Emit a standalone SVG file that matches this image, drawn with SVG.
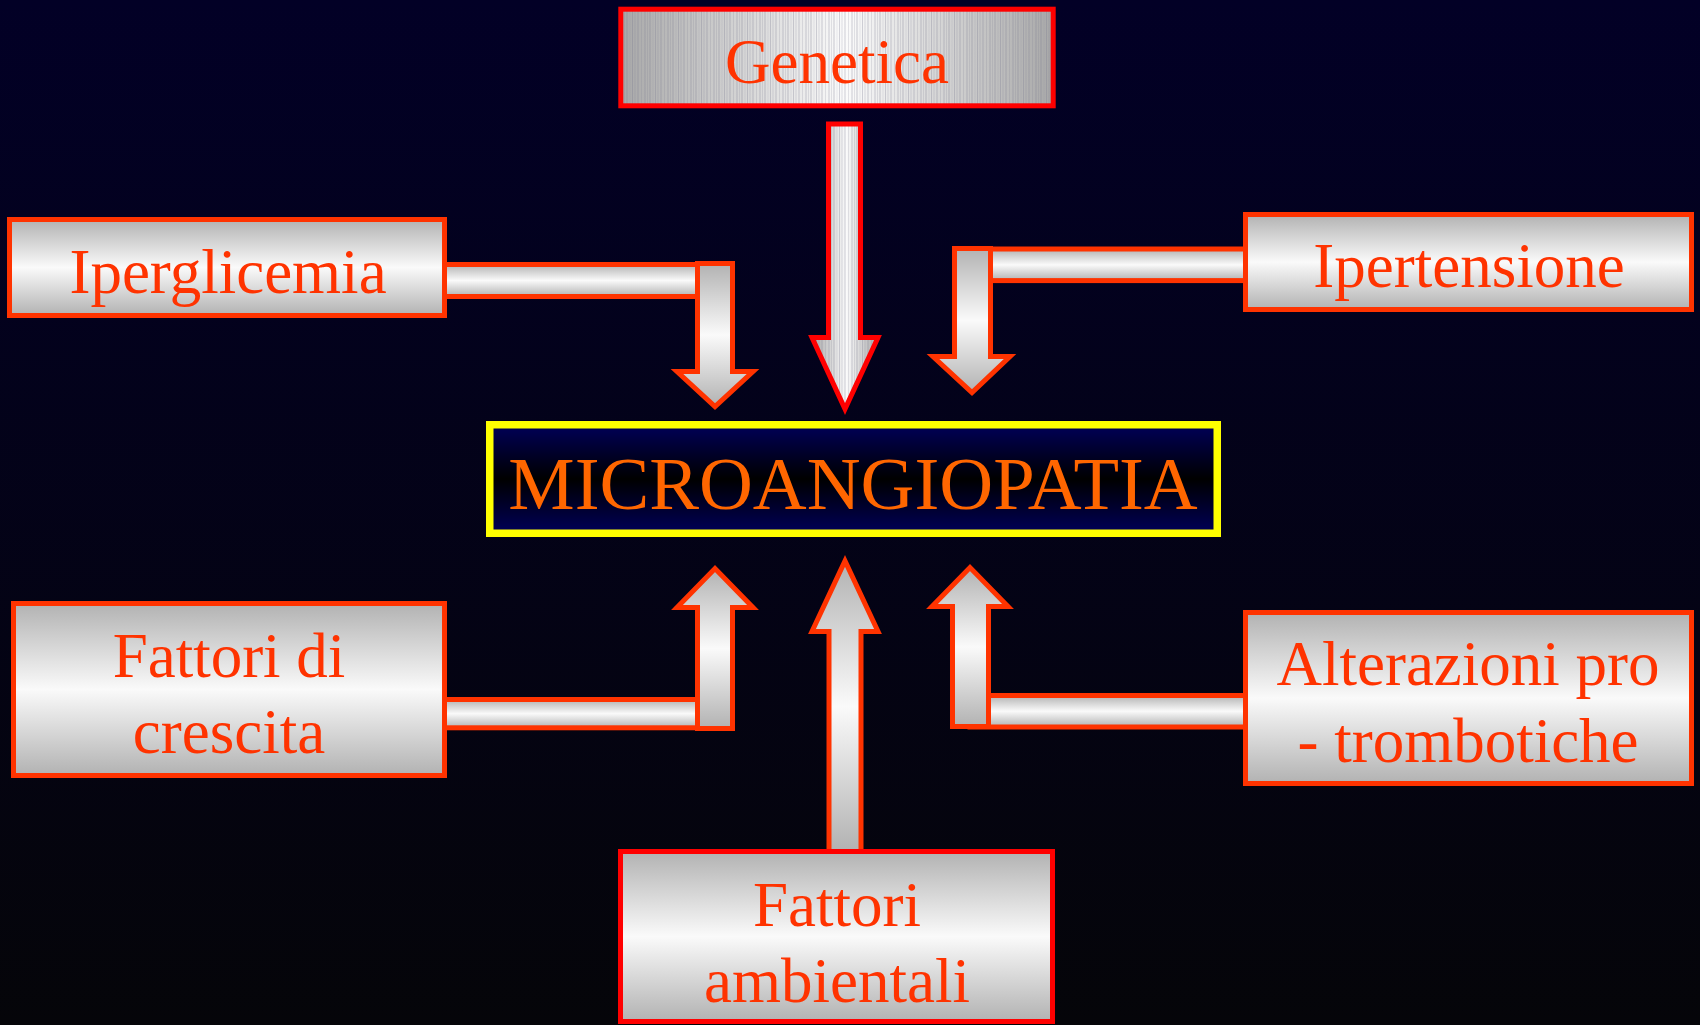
<svg xmlns="http://www.w3.org/2000/svg" width="1700" height="1025" viewBox="0 0 1700 1025">
<defs>
  <linearGradient id="bg" x1="0" y1="0" x2="0" y2="1">
    <stop offset="0" stop-color="#020026"/>
    <stop offset="1" stop-color="#050509"/>
  </linearGradient>
  <linearGradient id="silverV" x1="0" y1="0" x2="0" y2="1">
    <stop offset="0" stop-color="#b2b2b2"/>
    <stop offset="0.5" stop-color="#fafafa"/>
    <stop offset="1" stop-color="#b2b2b2"/>
  </linearGradient>
  <linearGradient id="silverH" x1="0" y1="0" x2="1" y2="0">
    <stop offset="0" stop-color="#a8a8a8"/>
    <stop offset="0.52" stop-color="#fbfbfb"/>
    <stop offset="1" stop-color="#a8a8a8"/>
  </linearGradient>
  <linearGradient id="navy" x1="0" y1="0" x2="0" y2="1">
    <stop offset="0" stop-color="#000058"/>
    <stop offset="0.5" stop-color="#000000"/>
    <stop offset="1" stop-color="#000058"/>
  </linearGradient>
  <pattern id="stripes" x="0" y="0" width="23" height="10" patternUnits="userSpaceOnUse">
    <g stroke="#7c7c92" stroke-width="0.8">
      <line x1="1" y1="0" x2="1" y2="10" stroke-opacity="0.45"/>
      <line x1="3.5" y1="0" x2="3.5" y2="10" stroke-opacity="0.25"/>
      <line x1="6" y1="0" x2="6" y2="10" stroke-opacity="0.5"/>
      <line x1="9" y1="0" x2="9" y2="10" stroke-opacity="0.2"/>
      <line x1="11.5" y1="0" x2="11.5" y2="10" stroke-opacity="0.4"/>
      <line x1="14" y1="0" x2="14" y2="10" stroke-opacity="0.3"/>
      <line x1="17" y1="0" x2="17" y2="10" stroke-opacity="0.45"/>
      <line x1="20.5" y1="0" x2="20.5" y2="10" stroke-opacity="0.25"/>
    </g>
  </pattern>
  <style>
    .box { fill: url(#silverV); stroke: #FF3300; stroke-width: 5; }
    .boxR { stroke: #FF0000; }
    .arr { fill: url(#silverV); stroke: #FF3300; stroke-width: 5; stroke-linejoin: miter; }
    .lbl { font-family: "Liberation Serif", "Times New Roman", serif; font-size: 63px; fill: #FF3300; text-anchor: middle; }
    .main { font-family: "Liberation Serif", "Times New Roman", serif; font-size: 74.6px; fill: #FF6600; text-anchor: middle; }
  </style>
</defs>

<rect x="0" y="0" width="1700" height="1025" fill="url(#bg)"/>

<g id="connectors">
  <!-- Iperglicemia -> center -->
  <rect class="arr" x="430" y="264.5" width="285" height="32"/>
  <polygon class="arr" points="697.5,263.5 732.5,263.5 732.5,371.5 753,371.5 715,406.5 677,371.5 697.5,371.5"/>
  <!-- Ipertensione -> center -->
  <rect class="arr" x="972" y="249" width="290" height="31.6"/>
  <polygon class="arr" points="954.5,248.5 990.5,248.5 990.5,356.5 1010,356.5 972,392.5 933,356.5 954.5,356.5"/>
  <!-- Genetica -> center -->
  <g>
    <polygon points="828.5,124 860.5,124 860.5,337.5 878,337.5 845,409 812,337.5 828.5,337.5" fill="url(#silverH)"/>
    <polygon points="828.5,124 860.5,124 860.5,337.5 878,337.5 845,409 812,337.5 828.5,337.5" fill="url(#stripes)" stroke="#FF0000" stroke-width="5" stroke-linejoin="miter"/>
  </g>
  <!-- Fattori di crescita -> center -->
  <rect class="arr" x="430" y="699.5" width="285" height="28.3"/>
  <polygon class="arr" points="697.5,728.5 732.5,728.5 732.5,607.5 753,607.5 715,568.5 677,607.5 697.5,607.5"/>
  <!-- Alterazioni -> center -->
  <rect class="arr" x="970" y="695.5" width="290" height="31.5"/>
  <polygon class="arr" points="952.5,726.5 988.5,726.5 988.5,606.5 1008,606.5 970,567.5 932,606.5 952.5,606.5"/>
  <!-- Fattori ambientali -> center -->
  <polygon class="arr" points="829,852 861,852 861,631.5 878,631.5 845,561 812,631.5 829,631.5"/>
</g>

<g id="node-genetica">
  <rect x="620.8" y="9.2" width="432.4" height="96.6" fill="url(#silverH)"/>
  <rect x="620.8" y="9.2" width="432.4" height="96.6" fill="url(#stripes)" stroke="#FF0000" stroke-width="5"/>
  <text class="lbl" x="837" y="83" font-size="64">Genetica</text>
</g>

<g id="node-iperglicemia">
  <rect class="box" x="9.5" y="219.5" width="435" height="96"/>
  <text class="lbl" x="228" y="293">Iperglicemia</text>
</g>

<g id="node-ipertensione">
  <rect class="box" x="1245.5" y="214.5" width="446" height="95"/>
  <text class="lbl" x="1469" y="287">Ipertensione</text>
</g>

<g id="node-microangiopatia">
  <rect x="489.75" y="424.75" width="727.5" height="108.5" fill="url(#navy)" stroke="#FFFF00" stroke-width="7.5"/>
  <text class="main" x="853" y="509">MICROANGIOPATIA</text>
</g>

<g id="node-fattori-crescita">
  <rect class="box" x="13.5" y="603.5" width="431" height="172"/>
  <text class="lbl" x="229" y="677">Fattori di</text>
  <text class="lbl" x="229" y="753">crescita</text>
</g>

<g id="node-alterazioni">
  <rect class="box" x="1245.5" y="612.5" width="446" height="171"/>
  <text class="lbl" x="1468" y="685">Alterazioni pro</text>
  <text class="lbl" x="1468" y="762">- trombotiche</text>
</g>

<g id="node-fattori-ambientali">
  <rect class="box boxR" x="620.5" y="851.5" width="432" height="170"/>
  <text class="lbl" x="837" y="926">Fattori</text>
  <text class="lbl" x="837" y="1002">ambientali</text>
</g>
</svg>
